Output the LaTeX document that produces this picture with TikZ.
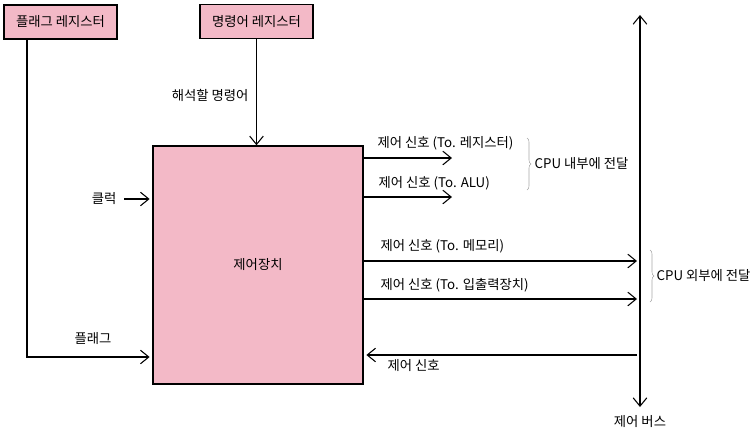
\documentclass[tikz,border=0pt]{standalone}
\usepackage{fontspec}
\setmainfont{Noto Sans CJK KR}
\usepackage{tikz}
\usetikzlibrary{arrows.meta, decorations.pathreplacing, positioning, calc}
\definecolor{regpink}{RGB}{243,185,199}
\tikzstyle{register} = [rectangle, minimum width=84.75pt, minimum height=25.5pt, text centered, draw=black, line width=1.1pt, fill=regpink]
\tikzstyle{unit} = [rectangle, minimum width=157.5pt, minimum height=178.5pt, text centered, draw=black, line width=1.1pt, fill=regpink]
\tikzstyle{label} = [inner sep=1pt]
\tikzstyle{sig} = [thick, -{Straight Barb[length=2.2mm, width=3.6mm]}]
\tikzstyle{bracket} = [draw=gray!70, thin, decorate, decoration={brace, amplitude=3pt}]

\begin{document}
\begin{tikzpicture}[x=0.75pt, y=-0.75pt, font=\fontsize{10}{12}\selectfont]
\useasboundingbox (0,0) rectangle (751,437);
\node (flagRegister) [register] at (60.5,22) {플래그 레지스터};
\node (instrRegister) [register] at (256.5,21.5) {명령어 레지스터};
\node (controlUnit) [unit] at (258,265) {제어장치};
\node (instrLabel) [label, anchor=east] at (250,95) {해석할 명령어};
\node (clockLabel) [label, anchor=east] at (118,199) {클럭};
\node (flagLabel) [label] at (93,339) {플래그};
\node (toRegLabel) [label, anchor=west] at (376,143) {제어 신호 (To. 레지스터)};
\node (toAluLabel) [label, anchor=west] at (377,183) {제어 신호 (To. ALU)};
\node (toMemLabel) [label, anchor=west] at (379,246) {제어 신호 (To. 메모리)};
\node (toIoLabel) [label, anchor=west] at (379,285) {제어 신호 (To. 입출력장치)};
\node (fromBusLabel) [label, anchor=west] at (386,366) {제어 신호};
\node (innerLabel) [label, anchor=west] at (533,164) {CPU 내부에 전달};
\node (outerLabel) [label, anchor=west] at (655,276) {CPU 외부에 전달};
\node (busLabel) [label] at (640,422) {제어 버스};

\coordinate (busTop) at (640,15);
\coordinate (busBottom) at (640,407);
\coordinate (flagCorner) at (27,357);
\coordinate (clockIn) at (124,199);
\coordinate (toReg) at (452,158);
\coordinate (toAlu) at (452,197);
\coordinate (toMem) at (637,261);
\coordinate (toIo) at (637,299);
\coordinate (fromBus) at (637,355);

\draw[thick, {Straight Barb[length=2.2mm, width=3.6mm]}-{Straight Barb[length=2.2mm, width=3.6mm]}] (busTop) -- (busBottom);
\draw[sig] (instrRegister.south) -- (instrRegister.south |- controlUnit.north);
\draw[sig, shorten >=2pt] (flagRegister.south -| flagCorner) -- (flagCorner) -- (controlUnit.west |- flagCorner);
\draw[sig, shorten >=2pt] (clockIn) -- (controlUnit.west |- clockIn);
\draw[sig] (controlUnit.east |- toReg) -- (toReg);
\draw[sig] (controlUnit.east |- toAlu) -- (toAlu);
\draw[sig] (controlUnit.east |- toMem) -- (toMem);
\draw[sig] (controlUnit.east |- toIo) -- (toIo);
\draw[sig, shorten >=2pt] (fromBus) -- (controlUnit.east |- fromBus);
\draw[bracket] (527,138) -- (527,190);
\draw[bracket] (650,250) -- (650,302);

\end{tikzpicture}
\end{document}
